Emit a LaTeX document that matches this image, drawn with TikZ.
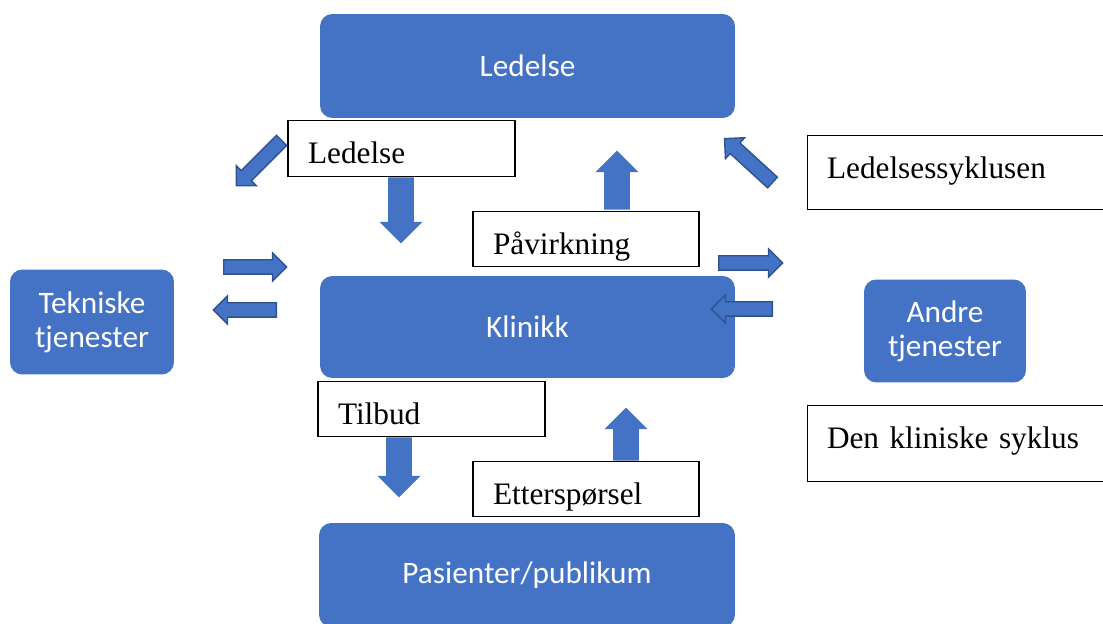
\documentclass[tikz,border=0pt]{standalone}
\usepackage{fontspec}
\setmainfont{Liberation Serif}
\newfontfamily\boxfont{Carlito}
\usetikzlibrary{shapes.arrows}
\definecolor{boxblue}{HTML}{4472C4}
\definecolor{edgeblue}{HTML}{2F528F}
\begin{document}
\begin{tikzpicture}[x=0.02cm,y=-0.02cm,
    unit/.style={fill=boxblue,rounded corners=7pt,text=white,align=center,
      font=\boxfont\fontsize{17.8}{19.5}\selectfont,inner sep=0pt},
    label/.style={draw=black,line width=0.6pt,fill=white,inner ysep=0pt,inner xsep=0.4cm,
      text height=24.6pt,align=left,font=\fontsize{17.8}{21}\selectfont},
    bigarrow/.style={single arrow,fill=boxblue,inner xsep=0pt,inner ysep=0.25cm,anchor=tail,
      single arrow head extend=0.17cm,single arrow tip angle=90},
    smallarrow/.style={single arrow,fill=boxblue,draw=edgeblue,line width=0.8pt,anchor=tail,
      inner xsep=0pt,inner ysep=0.13cm,minimum height=1.26cm,
      single arrow head extend=0.14cm,single arrow tip angle=90}]
    \useasboundingbox (0,0) rectangle (1103,624);
    % Units
    \node[unit,minimum width=8.3cm,minimum height=2.08cm] (ledelse) at (527.5,66) {Ledelse};
    \node[unit,minimum width=8.3cm,minimum height=2.04cm] (klinikk) at (527.5,327) {Klinikk};
    \node[unit,minimum width=8.32cm,minimum height=2.08cm] (pasienter) at (527,575) {Pasienter/publikum};
    \node[unit,minimum width=3.28cm,minimum height=2.1cm] (tekniske) at (92,322) {Tekniske\\tjenester};
    \node[unit,minimum width=3.24cm,minimum height=2.06cm] (andre) at (945,331) {Andre\\tjenester};
    % Labels
    \node[label,text width=3.74cm,text depth=7.7pt] (lblLedelse) at (401.5,148.5) {Ledelse};
    \node[label,text width=3.72cm,text depth=7.15pt] (lblPavirkning) at (586,239) {Påvirkning};
    \node[label,text width=3.74cm,text depth=7.15pt] (lblTilbud) at (431.5,409) {Tilbud};
    \node[label,text width=3.72cm,text depth=7.15pt] (lblEttersporsel) at (586,489) {Etterspørsel};
    \node[label,text width=5.4cm,text depth=17.9pt] (lblLedSyklus) at (962,172.5) {Ledelsessyklusen};
    \node[label,text width=5.4cm,text depth=19.1pt] (lblKlinSyklus) at (962,443.5) {Den kliniske syklus};
    % Vertical flows
    \node[bigarrow,minimum height=1.32cm,rotate=-90] (ledDown) at (401,177) {};
    \node[bigarrow,minimum height=1.18cm,rotate=90] (pavUp) at (617,210) {};
    \node[bigarrow,minimum height=1.2cm,rotate=-90] (tilDown) at (399,437) {};
    \node[bigarrow,minimum height=1.06cm,rotate=90] (ettUp) at (626,461) {};
    % Side flows
    \node[smallarrow,minimum height=1.28cm,rotate=-135] (ledTek) at (282,140) {};
    \node[smallarrow,minimum height=1.3cm,rotate=137.5] (andLed) at (773,183) {};
    \node[smallarrow] (tekIn) at (223,267) {};
    \node[smallarrow,rotate=180] (tekOut) at (277,310) {};
    \node[smallarrow,minimum height=1.28cm] (andOut) at (718,263) {};
    \node[smallarrow,minimum height=1.22cm,rotate=180] (andIn) at (773,309) {};
\end{tikzpicture}
\end{document}
